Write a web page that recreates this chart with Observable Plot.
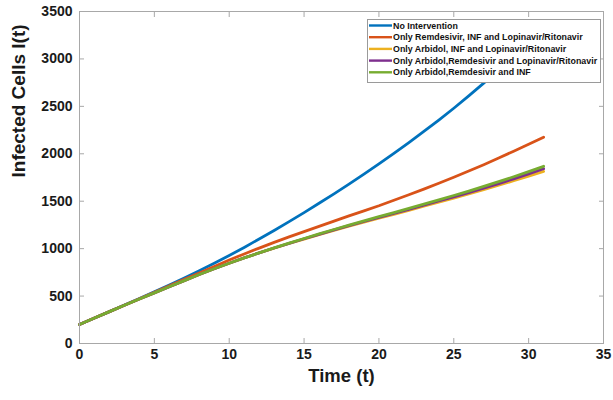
<!DOCTYPE html>
<html><head><meta charset="utf-8">
<script src="https://cdn.jsdelivr.net/npm/d3@7"></script>
<script src="https://cdn.jsdelivr.net/npm/@observablehq/plot@0.6"></script>
<style>html,body{margin:0;padding:0;background:#fff;}</style>
</head><body><div id="chart"></div>
<script>
const time = [0,1,2,3,4,5,6,7,8,9,10,11,12,13,14,15,16,17,18,19,20,21,22,23,24,25,26,27,28,29,30,31];
const noIntervention = [200,268,336,405,474,545,617,690,766,845,928,1013,1102,1192,1285,1380,1478,1578,1680,1785,1893,2004,2118,2235,2355,2480,2610,2745,2885,3030,3180,3335];
const onlyRemInfLop = [200,268,336,404,472,540,608,676,744,811,880,944,1006,1066,1124,1180,1235,1290,1345,1398,1452,1510,1568,1628,1690,1753,1818,1885,1955,2027,2100,2175];
const onlyArbInfLop = [200,268,336,403,469,534,599,663,727,788,846,902,955,1005,1054,1101,1147,1192,1236,1279,1321,1362,1404,1447,1490,1533,1577,1622,1668,1716,1765,1815];
const onlyArbRemLop = [200,268,336,403,469,534,599,663,727,788,846,902,956,1007,1056,1104,1151,1197,1242,1286,1329,1371,1414,1458,1502,1546,1591,1638,1686,1736,1788,1842];
const onlyArbRemInf = [200,268,336,403,469,534,599,663,727,788,846,902,956,1008,1058,1107,1155,1202,1248,1293,1337,1380,1424,1469,1514,1560,1607,1656,1706,1758,1812,1868];

const seriesNames = [
  "No Intervention",
  "Only Remdesivir, INF and Lopinavir/Ritonavir",
  "Only Arbidol, INF and Lopinavir/Ritonavir",
  "Only Arbidol,Remdesivir and Lopinavir/Ritonavir",
  "Only Arbidol,Remdesivir and INF"
];
const seriesValues = [noIntervention, onlyRemInfLop, onlyArbInfLop, onlyArbRemLop, onlyArbRemInf];
const seriesColors = ["#0072BD", "#D95319", "#EDB120", "#7E2F8E", "#77AC30"];
const xTicks = [0,5,10,15,20,25,30,35];
const yTicks = [0,500,1000,1500,2000,2500,3000,3500];
const xLabel = "Time (t)";
const yLabel = "Infected Cells I(t)";

const rows = [];
seriesValues.forEach((vals, i) => vals.forEach((v, j) => rows.push({t: time[j], v, s: seriesNames[i]})));

const axisGrey = "#a8a8a8";
const plot = Plot.plot({
  width: 613, height: 400,
  marginLeft: 79, marginRight: 10, marginTop: 11, marginBottom: 57,
  style: {fontFamily: "'Liberation Sans', Arial, sans-serif", fontSize: "14px", fontWeight: "bold", background: "#fff", color: "#1a1a1a"},
  x: {domain: [0, 35]},
  y: {domain: [0, 3500]},
  color: {domain: seriesNames, range: seriesColors},
  marks: [
    Plot.line(rows, {x: "t", y: "v", z: "s", stroke: "s", strokeWidth: 2.8}),
    Plot.frame({stroke: axisGrey}),
    Plot.axisX({ticks: xTicks, anchor: "bottom", text: null, tickSize: -5, stroke: axisGrey, label: null}),
    Plot.axisX({ticks: xTicks, anchor: "top", text: null, tickSize: -5, stroke: axisGrey, label: null}),
    Plot.axisY({ticks: yTicks, anchor: "left", text: null, tickSize: -5, stroke: axisGrey, label: null}),
    Plot.axisY({ticks: yTicks, anchor: "right", text: null, tickSize: -5, stroke: axisGrey, label: null}),
    Plot.axisX({ticks: xTicks, anchor: "bottom", tickSize: 0, tickPadding: 6, label: null, fill: "#1a1a1a", fontSize: 14, fontWeight: "bold"}),
    Plot.axisY({ticks: yTicks, anchor: "left", tickSize: 0, tickPadding: 7, label: null, fill: "#1a1a1a", fontSize: 14, fontWeight: "bold", tickFormat: d => String(d)}),
    Plot.text([xLabel], {frameAnchor: "bottom", dy: 38, fontSize: 18.5, fontWeight: "bold", fill: "#1a1a1a"}),
    Plot.text([yLabel], {frameAnchor: "left", dx: -61, rotate: -90, fontSize: 19, fontWeight: "bold", fill: "#1a1a1a"})
  ]
});
document.getElementById("chart").appendChild(plot);

// legend (inside the axes, top-right, white box)
const svg = d3.select(plot);
const lg = svg.append("g")
  .attr("font-family", "'Liberation Sans', Arial, sans-serif")
  .attr("font-weight", "bold")
  .attr("text-anchor", "start");
lg.append("rect").attr("x", 367.5).attr("y", 19.5).attr("width", 233).attr("height", 63)
  .attr("fill", "#fff").attr("stroke", "#9a9a9a").attr("stroke-width", 1);
seriesNames.forEach((name, i) => {
  const y = 25.5 + i * 11.7;
  lg.append("line").attr("x1", 369).attr("x2", 392).attr("y1", y).attr("y2", y)
    .attr("stroke", seriesColors[i]).attr("stroke-width", 2.4);
  lg.append("text").attr("x", 393).attr("y", y).attr("dy", "0.35em")
    .attr("text-anchor", "start")
    .attr("font-size", 8.85).attr("fill", "#111").text(name);
});
</script>
</body></html>
